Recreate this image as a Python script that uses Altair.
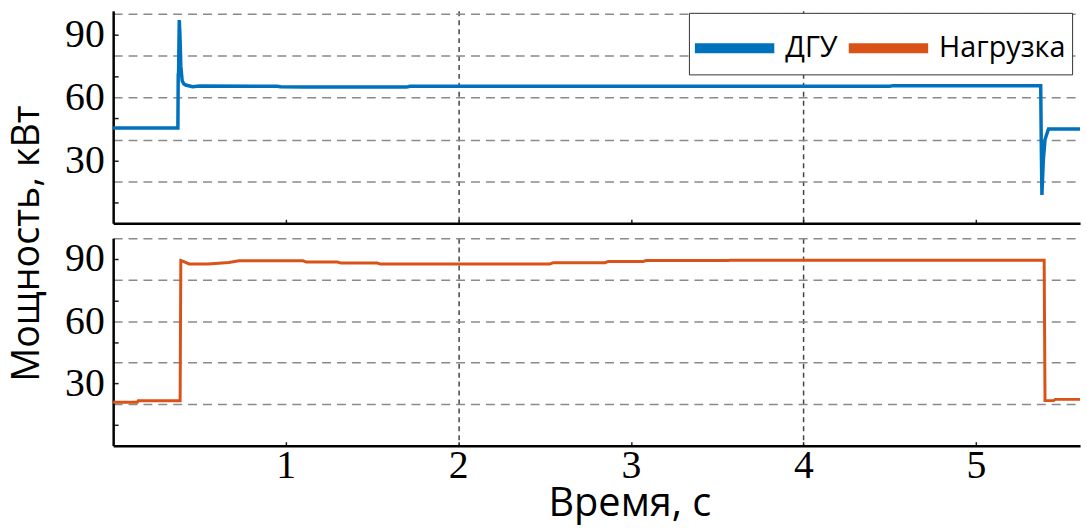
import altair as alt
import pandas as pd

# ---- data ----
series_names = ["ДГУ", "Нагрузка"]
series_colors = ["#0072BD", "#D95319"]

t_dgu = [0.0, 0.375, 0.377, 0.379, 0.383, 0.387, 0.392, 0.40, 0.41, 0.42, 0.46, 0.50,
         0.95, 0.97, 1.10, 1.70, 1.72, 4.50, 4.52, 5.375, 5.378, 5.382, 5.39, 5.40, 5.42, 5.603]
p_dgu = [45.5, 45.5, 71.0, 72.0, 97.0, 90.0, 75.0, 68.0, 66.5, 66.0, 65.2, 65.5,
         65.4, 65.2, 65.0, 65.0, 65.4, 65.4, 65.7, 65.7, 40.0, 13.5, 30.0, 40.0, 45.0, 45.0]

t_load = [0.0, 0.14, 0.145, 0.388, 0.392, 0.40, 0.44, 0.55, 0.67, 0.73, 1.10, 1.12, 1.30,
          1.32, 1.53, 1.55, 2.53, 2.55, 2.85, 2.87, 3.07, 3.09, 3.56, 3.58, 5.395, 5.40,
          5.45, 5.46, 5.603]
p_load = [20.9, 20.9, 21.6, 21.6, 89.2, 89.0, 87.6, 87.6, 88.3, 89.1, 89.1, 88.5, 88.5,
          88.0, 88.0, 87.5, 87.5, 88.2, 88.2, 88.8, 88.8, 89.2, 89.2, 89.4, 89.4, 21.7,
          21.7, 22.3, 22.3]

x_ticks = [1, 2, 3, 4, 5]
y_ticks = [10, 20, 30, 40, 50, 60, 70, 80, 90, 100]

df_dgu = pd.DataFrame({"t": t_dgu, "p": p_dgu, "s": series_names[0]})
df_load = pd.DataFrame({"t": t_load, "p": p_load, "s": series_names[1]})

LABEL_FONT = "Liberation Serif"
SANS = "Open Sans"

legend = alt.Legend(
    title=None, orient="none", legendX=580, legendY=2, direction="horizontal",
    symbolType="M-1.204,0L2.061,0", symbolSize=2401, symbolStrokeWidth=10, symbolOpacity=1,
    labelFont=SANS, labelFontSize=29, labelColor="black", labelOffset=32,
    columnPadding=-9, padding=6, strokeColor="#333", fillColor="white",
)
color = alt.Color("s:N", scale=alt.Scale(domain=series_names, range=series_colors), legend=legend)


def y_axis(title=None):
    kw = dict(
        values=y_ticks,
        labelExpr="datum.value % 30 == 0 ? datum.label : ''",
        labelFont=LABEL_FONT, labelFontSize={"condition": {"test": "datum.value % 30 == 0", "value": 40}, "value": 1},
        labelColor="black", labelPadding=14,
        tickSize={"expr": "-5"}, tickColor="#222", tickWidth=1.5,
        tickOpacity={"condition": {"test": "datum.value % 20 != 0", "value": 1}, "value": 0},
        grid=True, gridColor="#8a8a8a", gridDash=[9, 6], gridWidth=1.5,
        gridOpacity={"condition": {"test": "datum.value % 20 == 0", "value": 1}, "value": 0},
        domainColor="black", domainWidth=2.5,
    )
    if title is not None:
        kw.update(title=title, titleFont=SANS, titleFontSize=38, titleFontWeight="normal",
                  titleColor="black", titleX=-75.5, titleY=234, titleBaseline="alphabetic",
                  titleAngle=270)
    else:
        kw.update(title=None)
    return alt.Axis(**kw)


def x_axis(show_labels):
    kw = dict(
        values=x_ticks, labels=show_labels,
        labelFont=LABEL_FONT, labelFontSize=40, labelColor="black", labelPadding=4,
        tickSize={"expr": "-4"}, tickColor="#222", tickWidth=1.5,
        grid=True, gridColor="#444", gridDash=[5, 4], gridWidth=1.5,
        gridOpacity={"condition": {"test": "datum.value % 2 == 0", "value": 1}, "value": 0},
        domainColor="black", domainWidth=2.5,
    )
    if show_labels:
        kw.update(title="Время, с", titleFont=SANS, titleFontSize=40, titleFontWeight="normal",
                  titleColor="black", titleX=520, titleY=78, titleBaseline="bottom")
    else:
        kw.update(title=None)
    return alt.Axis(**kw)


x_scale = alt.Scale(domain=[0, 5.603], nice=False, zero=False)

top = alt.Chart(df_dgu).mark_line(strokeWidth=3.5).encode(
    x=alt.X("t:Q", scale=x_scale, axis=x_axis(False)),
    y=alt.Y("p:Q", scale=alt.Scale(domain=[0, 101.4], nice=False), axis=y_axis("Мощность, кВт")),
    color=color,
).properties(width=974, height=214)

bottom = alt.Chart(df_load).mark_line(strokeWidth=3).encode(
    x=alt.X("t:Q", scale=x_scale, axis=x_axis(True)),
    y=alt.Y("p:Q", scale=alt.Scale(domain=[0, 100], nice=False), axis=y_axis()),
    color=color,
).properties(width=974, height=209)

chart = alt.vconcat(top, bottom, spacing=15, bounds="flush").resolve_scale(
    color="shared", x="independent", y="independent"
).resolve_legend(color="shared").properties(
    padding={"left": 8, "top": 9, "right": 0, "bottom": 0},
    background="white",
).configure_view(stroke=None)

chart.save("out.html", embed_options={"renderer": "svg", "actions": False})
